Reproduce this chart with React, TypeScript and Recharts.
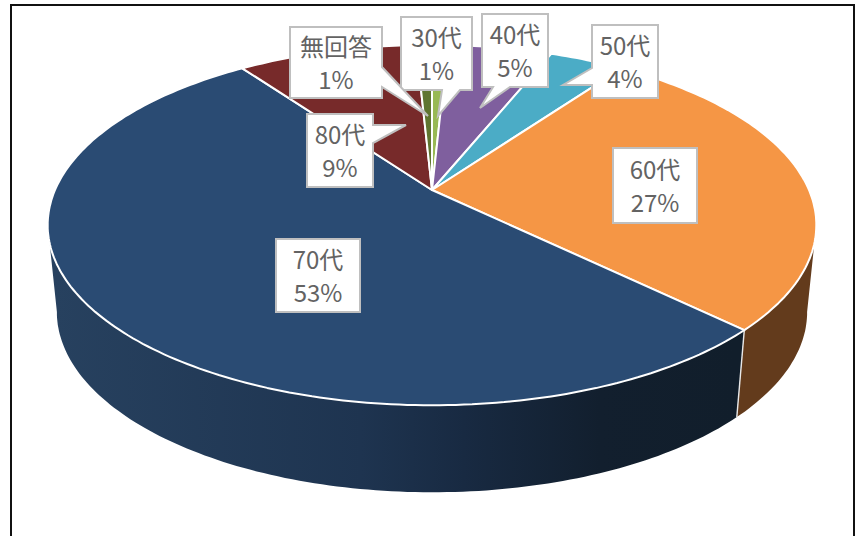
import React from 'react';
import { PieChart, Pie } from 'recharts';

const categories = ['30代', '40代', '50代', '60代', '70代', '80代', '無回答'];
const values = [0.8, 5.3, 3.8, 27.4, 52.8, 9.1, 0.8];
const topColors = ['#98b954', '#7f5f9e', '#4bacc6', '#f59645', '#2a4b73', '#772a2a', '#5f7530'];
const sideColors = ['#5f7530', '#4f3a66', '#2f6c7c', '#633b1c', 'url(#wallNavy)', '#4a1a1a', '#3b491e'];

// callout boxes, same order as categories
const callouts = [
  { x: 401, y: 17, w: 71, h: 73, side: 'bottom', base: [460, 442], tip: [438, 116] },
  { x: 482, y: 14, w: 66, h: 73, side: 'bottom', base: [510, 493], tip: [480, 108] },
  { x: 592, y: 25, w: 66, h: 73, side: 'left', base: [85, 68], tip: [563, 85] },
  { x: 613, y: 148, w: 84, h: 75 },
  { x: 276, y: 239, w: 84, h: 73 },
  { x: 307, y: 114, w: 66, h: 73, side: 'right', base: [125, 143], tip: [406, 125] },
  { x: 290, y: 27, w: 92, h: 71, side: 'right', base: [67, 87], tip: [428, 116] },
];

const CX = 432;
const CY = 190;
const RADIUS = 377;
const TILT = 0.46; // vertical squash of the disc
const PERSPECTIVE = 0.1944;
const DEPTH = 87;
const BOTTOM_SCALE = 0.976;
// angles where the wall turns out of sight
const WALL_FROM = -11.2;
const WALL_TO = -168.8;

const topData = categories.map((name, i) => ({ name, value: values[i], fill: topColors[i] }));
const sideData = categories.map((name, i) => ({ name, value: values[i], fill: sideColors[i] }));

// tilted disc: angle on the circle -> point on screen
const project = (deg: number, cx: number, cy: number, r: number) => {
  const a = (deg * Math.PI) / 180;
  const w = 1 + PERSPECTIVE * Math.sin(a);
  return [cx + (r * Math.cos(a)) / w, cy - (r * TILT * Math.sin(a)) / w];
};

const arcPoints = (from: number, to: number, cx: number, cy: number, r: number) => {
  const steps = Math.max(2, Math.ceil(Math.abs(to - from)));
  const pts: number[][] = [];
  for (let i = 0; i <= steps; i++) pts.push(project(from + ((to - from) * i) / steps, cx, cy, r));
  return pts;
};

const toBottom = (p: number[], cx: number) => [cx + (p[0] - cx) * BOTTOM_SCALE, p[1] + DEPTH];
const d = (pts: number[][]) => pts.map((p) => p[0].toFixed(1) + ' ' + p[1].toFixed(1)).join(' L ');

const TopSlice = (props: any) => {
  const { cx, cy, outerRadius, startAngle, endAngle, fill } = props;
  const pts = arcPoints(startAngle, endAngle, cx, cy, outerRadius);
  return <path d={`M ${cx} ${cy} L ${d(pts)} Z`} fill={fill} stroke="#fff" strokeWidth={2} strokeLinejoin="round" />;
};

const WallSlice = (props: any) => {
  const { cx, cy, outerRadius, startAngle, endAngle, fill } = props;
  const from = Math.min(startAngle, WALL_FROM);
  const to = Math.max(endAngle, WALL_TO);
  if (from <= to) return null;
  const top = arcPoints(from, to, cx, cy, outerRadius);
  const bottom = top.map((p) => toBottom(p, cx)).reverse();
  const first = top[0];
  const firstLow = toBottom(first, cx);
  return (
    <g>
      <path d={`M ${d(top)} L ${d(bottom)} Z`} fill={fill} />
      {startAngle < WALL_FROM && (
        <line x1={first[0]} y1={first[1]} x2={firstLow[0]} y2={firstLow[1]} stroke="#e8e8e8" strokeWidth={1.4} />
      )}
    </g>
  );
};

const calloutPath = (c: any) => {
  const r = c.x + c.w;
  const b = c.y + c.h;
  if (c.side === 'bottom') {
    return `M ${c.x} ${c.y} H ${r} V ${b} H ${c.base[0]} L ${c.tip[0]} ${c.tip[1]} L ${c.base[1]} ${b} H ${c.x} Z`;
  }
  if (c.side === 'left') {
    return `M ${c.x} ${c.y} H ${r} V ${b} H ${c.x} V ${c.base[0]} L ${c.tip[0]} ${c.tip[1]} L ${c.x} ${c.base[1]} Z`;
  }
  if (c.side === 'right') {
    return `M ${c.x} ${c.y} H ${r} V ${c.base[0]} L ${c.tip[0]} ${c.tip[1]} L ${r} ${c.base[1]} V ${b} H ${c.x} Z`;
  }
  return `M ${c.x} ${c.y} H ${r} V ${b} H ${c.x} Z`;
};

const renderLabel = (props: any) => {
  const i = categories.indexOf(props.name);
  const c = callouts[i];
  const mx = c.x + c.w / 2;
  const my = c.y + c.h / 2;
  return (
    <g>
      <path d={calloutPath(c)} fill="#fff" stroke="#bfbfbf" strokeWidth={2} />
      <text x={mx} y={my - 7} textAnchor="middle" fontSize={24} fill="#636363" fontFamily="'Noto Sans CJK JP'">
        {categories[i]}
      </text>
      <text x={mx} y={my + 26} textAnchor="middle" fontSize={24} fill="#636363" fontFamily="'Noto Sans CJK JP'">
        {Math.round(values[i])}%
      </text>
    </g>
  );
};

export default function App() {
  return (
    <div style={{ position: 'absolute', left: 0, top: 0, width: 859, height: 536, overflow: 'hidden', background: '#fff' }}>
      <div
        style={{
          position: 'absolute',
          left: 10,
          top: 4,
          width: 841,
          height: 600,
          border: '2px solid #111',
        }}
      />
      <div style={{ position: 'absolute', left: 0, top: 0 }}>
        <PieChart width={859} height={536} margin={{ top: 0, right: 0, bottom: 0, left: 0 }}>
          <defs>
            <linearGradient id="wallNavy" gradientUnits="userSpaceOnUse" x1="55" y1="0" x2="736" y2="0">
              <stop offset="0%" stopColor="#27415f" />
              <stop offset="45%" stopColor="#1e3450" />
              <stop offset="60%" stopColor="#182a42" />
              <stop offset="80%" stopColor="#121f2e" />
              <stop offset="100%" stopColor="#111e2b" />
            </linearGradient>
          </defs>
          <Pie
            data={sideData}
            dataKey="value"
            nameKey="name"
            cx={CX}
            cy={CY}
            outerRadius={RADIUS}
            startAngle={90}
            endAngle={-270}
            paddingAngle={0}
            shape={WallSlice}
            stroke="none"
            isAnimationActive={false}
          />
          <Pie
            data={topData}
            dataKey="value"
            nameKey="name"
            cx={CX}
            cy={CY}
            outerRadius={RADIUS}
            startAngle={90}
            endAngle={-270}
            paddingAngle={0}
            shape={TopSlice}
            label={renderLabel}
            labelLine={false}
            isAnimationActive={false}
          />
        </PieChart>
      </div>
    </div>
  );
}
